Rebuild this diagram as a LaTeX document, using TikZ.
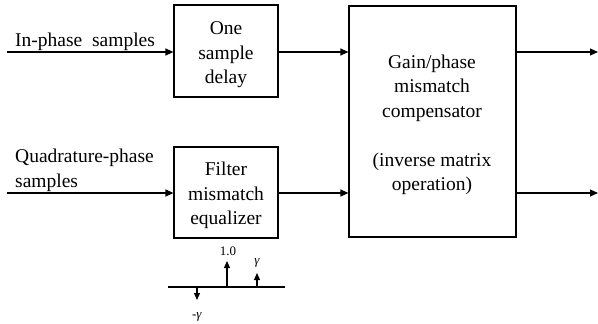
\documentclass[tikz,border=0pt]{standalone}
\usepackage{fontspec}
\setmainfont{Liberation Serif}
\usetikzlibrary{arrows.meta}
\begin{document}
\begin{tikzpicture}[x=1pt,y=-1pt,
  blk/.style={draw,line width=1.2pt,inner sep=0pt},
  txt/.style={font=\rmfamily\fontsize{19.5}{24.5}\selectfont,align=center},
  small/.style={font=\rmfamily\fontsize{13}{15}\selectfont},
  arr/.style={line width=1.2pt,-{Triangle[length=8pt,width=7pt]}},
  stem/.style={line width=1.2pt,-{Triangle[length=7pt,width=6pt]}}]
\useasboundingbox (0,0) rectangle (598,324);
% boxes
\node[blk,minimum width=104pt,minimum height=92pt] (delay) at (226,51) {};
\node[txt] at ([yshift=-4pt]delay.center) {One\\sample\\delay};
\node[blk,minimum width=104pt,minimum height=91pt] (filt) at (226,192.5) {};
\node[txt] at ([yshift=-3pt]filt.center) {Filter\\mismatch\\equalizer};
\node[blk,minimum width=167pt,minimum height=231pt] (comp) at (432.5,121.5) {};
\node[txt] at (432,125) {Gain/phase\\mismatch\\compensator\\[24.5pt](inverse matrix\\operation)};
% inputs
\coordinate (inI) at (7,52);
\coordinate (inQ) at (7,193);
\draw[arr] (inI) -- (delay.west |- inI);
\draw[arr] (inQ) -- (filt.west |- inQ);
\node[txt,anchor=base west,inner sep=0pt] (lI) at (15,46) {In-phase\ \ samples};
\node[txt,anchor=base west,inner sep=0pt,align=left] (lQ) at (15,187) {Quadrature-phase\\samples};
% middle arrows
\draw[arr] (delay.east |- inI) -- (comp.west |- inI);
\draw[arr] (filt.east |- inQ) -- (comp.west |- inQ);
% outputs
\coordinate (oI) at (598,52);
\coordinate (oQ) at (598,193);
\draw[arr] (comp.east |- inI) -- (oI);
\draw[arr] (comp.east |- inQ) -- (oQ);
% impulse response
\coordinate (ax1) at (168,287);
\coordinate (ax2) at (285,287);
\draw[line width=1.2pt] (ax1) -- (ax2);
\coordinate (s1) at (197,287);
\coordinate (s1e) at (197,300);
\coordinate (s2) at (227,287);
\coordinate (s2e) at (227,261);
\coordinate (s3) at (257,287);
\coordinate (s3e) at (257,273);
\draw[stem] (s1) -- (s1e);
\draw[stem] (s2) -- (s2e);
\draw[stem] (s3) -- (s3e);
\node[small] (l1) at (197,317) {-\textit{γ}};
\node[small] (l2) at (228,251) {1.0};
\node[small] (l3) at (257,263) {\textit{γ}};
\end{tikzpicture}
\end{document}
